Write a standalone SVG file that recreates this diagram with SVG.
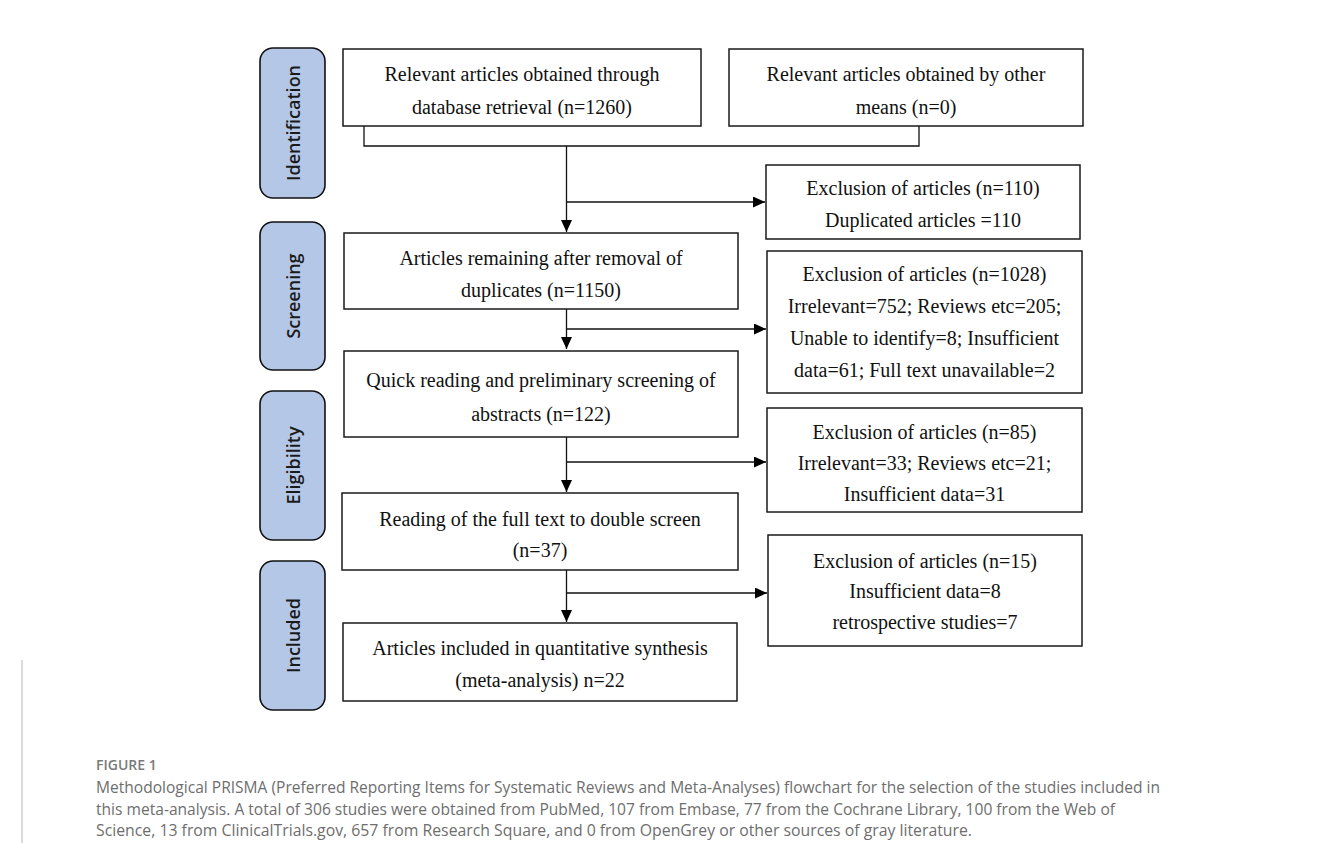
<svg xmlns="http://www.w3.org/2000/svg" width="1322" height="843" viewBox="0 0 1322 843">
<defs>
<style>
.box{fill:#fff;stroke:#1a1a1a;stroke-width:1.5}
.pill{fill:#b4c7e7;stroke:#111;stroke-width:1.6}
.bt{font-family:"Liberation Serif","Times New Roman",serif;font-size:20px;fill:#111;text-anchor:middle}
.pt{font-family:"Open Sans","Noto Sans",sans-serif;font-size:18px;font-weight:600;fill:#1a1a1a;text-anchor:middle;dominant-baseline:central}
.ln{fill:none;stroke:#111;stroke-width:1.3}
.cap{font-family:"Open Sans","Noto Sans",sans-serif;font-size:15.5px;fill:#6e6e6e}
.fig{font-family:"Open Sans","Noto Sans",sans-serif;font-size:14px;font-weight:600;fill:#7a7a7a}
</style>
<marker id="ah" markerWidth="13" markerHeight="12" refX="12" refY="5.5" orient="auto" markerUnits="userSpaceOnUse">
<path d="M0,0 L12,5.5 L0,11 Z" fill="#000"/>
</marker>
</defs>
<rect width="1322" height="843" fill="#fff"/>
<line x1="22" y1="660" x2="22" y2="843" stroke="#cfcfcf" stroke-width="1.5"/>

<g id="stage-identification">
<rect class="pill" x="260" y="48" width="65" height="150" rx="13"/>
<text class="pt" transform="translate(292.5,123) rotate(-90)">Identification</text>
</g>
<g id="stage-screening">
<rect class="pill" x="260" y="222" width="65" height="148" rx="13"/>
<text class="pt" transform="translate(292.5,296) rotate(-90)">Screening</text>
</g>
<g id="stage-eligibility">
<rect class="pill" x="260" y="391" width="65" height="149" rx="13"/>
<text class="pt" transform="translate(292.5,465.5) rotate(-90)">Eligibility</text>
</g>
<g id="stage-included">
<rect class="pill" x="260" y="561" width="65" height="149" rx="13"/>
<text class="pt" transform="translate(292.5,635.5) rotate(-90)">Included</text>
</g>

<g id="connectors">
<path class="ln" d="M364,126 V146 H919 V126" stroke="#333"/>
<path class="ln" d="M566.5,146 V232" marker-end="url(#ah)"/>
<path class="ln" d="M566.5,202 H765" marker-end="url(#ah)"/>
<path class="ln" d="M566.5,309 V349" marker-end="url(#ah)"/>
<path class="ln" d="M566.5,329 H766" marker-end="url(#ah)"/>
<path class="ln" d="M566.5,437 V492" marker-end="url(#ah)"/>
<path class="ln" d="M566.5,462 H766" marker-end="url(#ah)"/>
<path class="ln" d="M566.5,570 V622" marker-end="url(#ah)"/>
<path class="ln" d="M566.5,593 H767" marker-end="url(#ah)"/>
</g>

<g id="node-database">
<rect class="box" x="343" y="49" width="358" height="77"/>
<text class="bt"><tspan x="522" y="81">Relevant articles obtained through</tspan><tspan x="522" y="114">database retrieval (n=1260)</tspan></text>
</g>
<g id="node-other">
<rect class="box" x="729" y="49" width="354" height="77"/>
<text class="bt"><tspan x="906" y="81">Relevant articles obtained by other</tspan><tspan x="906" y="114">means (n=0)</tspan></text>
</g>
<g id="node-excl-110">
<rect class="box" x="766" y="165" width="314" height="74"/>
<text class="bt"><tspan x="923" y="195">Exclusion of articles (n=110)</tspan><tspan x="923" y="227">Duplicated articles =110</tspan></text>
</g>
<g id="node-remaining">
<rect class="box" x="344" y="233" width="394" height="76"/>
<text class="bt"><tspan x="541" y="265">Articles remaining after removal of</tspan><tspan x="541" y="297">duplicates (n=1150)</tspan></text>
</g>
<g id="node-excl-1028">
<rect class="box" x="767" y="251" width="315" height="142"/>
<text class="bt"><tspan x="924.5" y="281">Exclusion of articles (n=1028)</tspan><tspan x="924.5" y="313">Irrelevant=752; Reviews etc=205;</tspan><tspan x="924.5" y="345">Unable to identify=8; Insufficient</tspan><tspan x="924.5" y="377">data=61; Full text unavailable=2</tspan></text>
</g>
<g id="node-quick">
<rect class="box" x="344" y="351" width="394" height="86"/>
<text class="bt"><tspan x="541" y="387">Quick reading and preliminary screening of</tspan><tspan x="541" y="421">abstracts (n=122)</tspan></text>
</g>
<g id="node-excl-85">
<rect class="box" x="767" y="408" width="315" height="104"/>
<text class="bt"><tspan x="924.5" y="439">Exclusion of articles (n=85)</tspan><tspan x="924.5" y="470">Irrelevant=33; Reviews etc=21;</tspan><tspan x="924.5" y="501">Insufficient data=31</tspan></text>
</g>
<g id="node-fulltext">
<rect class="box" x="342" y="493" width="396" height="77"/>
<text class="bt"><tspan x="540" y="526">Reading of the full text to double screen</tspan><tspan x="540" y="557">(n=37)</tspan></text>
</g>
<g id="node-excl-15">
<rect class="box" x="768" y="535" width="314" height="111"/>
<text class="bt"><tspan x="925" y="568">Exclusion of articles (n=15)</tspan><tspan x="925" y="598">Insufficient data=8</tspan><tspan x="925" y="629">retrospective studies=7</tspan></text>
</g>
<g id="node-included">
<rect class="box" x="343" y="623" width="394" height="78"/>
<text class="bt"><tspan x="540" y="655">Articles included in quantitative synthesis</tspan><tspan x="540" y="687">(meta-analysis) n=22</tspan></text>
</g>

<g id="caption">
<text class="fig" x="96" y="770">FIGURE 1</text>
<text class="cap" x="96" y="793" textLength="1064" lengthAdjust="spacingAndGlyphs">Methodological PRISMA (Preferred Reporting Items for Systematic Reviews and Meta-Analyses) flowchart for the selection of the studies included in</text>
<text class="cap" x="96" y="815" textLength="1019" lengthAdjust="spacingAndGlyphs">this meta-analysis. A total of 306 studies were obtained from PubMed, 107 from Embase, 77 from the Cochrane Library, 100 from the Web of</text>
<text class="cap" x="96" y="836" textLength="876" lengthAdjust="spacingAndGlyphs">Science, 13 from ClinicalTrials.gov, 657 from Research Square, and 0 from OpenGrey or other sources of gray literature.</text>
</g>
</svg>
